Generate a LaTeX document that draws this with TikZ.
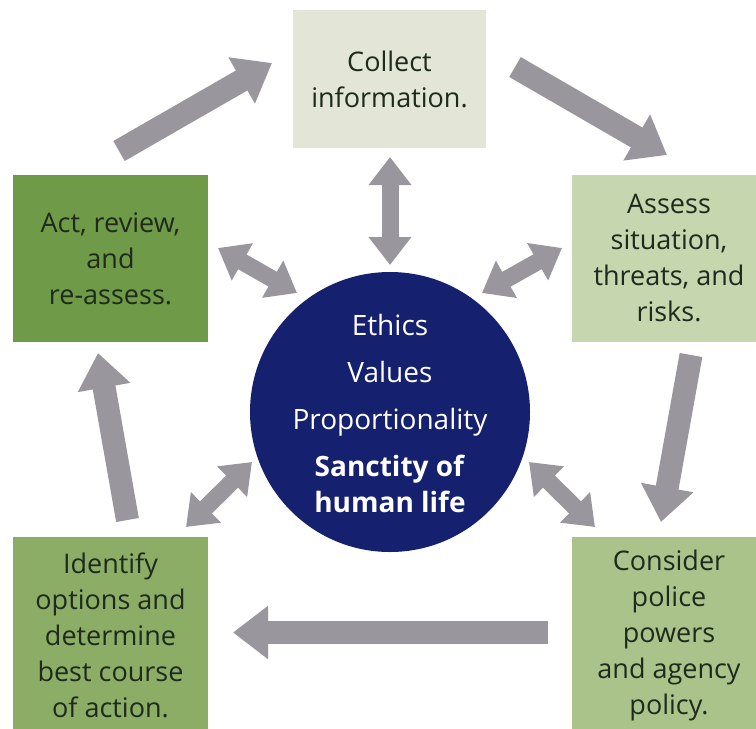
\documentclass[tikz,border=0pt]{standalone}
\usepackage{fontspec}
\setmainfont{Open Sans}
\usetikzlibrary{arrows.meta}
\definecolor{cCollect}{HTML}{E3E6D6}
\definecolor{cAct}{HTML}{6F9A48}
\definecolor{cAssess}{HTML}{C6D6AF}
\definecolor{cIdentify}{HTML}{8CAD66}
\definecolor{cConsider}{HTML}{AAC38B}
\definecolor{navy}{HTML}{15206E}
\definecolor{arr}{HTML}{99979D}
\definecolor{txt}{HTML}{1E2A1C}
\tikzset{
  box/.style={rectangle, inner sep=0pt, align=center, text=txt, font=\fontsize{27}{36}\selectfont},
  flow/.style={draw=arr, line width=23pt, -{Triangle[width=51pt,length=35pt]}},
  link/.style={draw=arr, line width=17pt, {Triangle[width=41pt,length=28pt]}-{Triangle[width=41pt,length=28pt]}}
}
\begin{document}
\begin{tikzpicture}[x=1pt,y=-1pt]
\useasboundingbox (0,0) rectangle (756,729);
\clip (0,0) rectangle (756,729);
\fill[white] (0,0) rectangle (756,729);

\node[box, fill=cCollect, minimum width=193pt, minimum height=138pt] (collect) at (389.5,79) {Collect\\information.};
\node[box, fill=cAct, minimum width=195pt, minimum height=167pt] (act) at (110.5,258.5) {Act, review,\\and\\re-assess.};
\node[box, fill=cAssess, minimum width=194pt, minimum height=167pt] (assess) at (669,258.5) {Assess\\situation,\\threats, and\\risks.};
\node[box, fill=cIdentify, minimum width=195pt, minimum height=196pt] (identify) at (110.5,635) {Identify\\options and\\determine\\best course\\of action.};
\node[box, fill=cConsider, minimum width=194pt, minimum height=196pt] (consider) at (669,635) {Consider\\police\\powers\\and agency\\policy.};

\node[circle, fill=navy, minimum size=280pt, inner sep=0pt] (core) at (390,412) {};
\node[text=white, align=center, inner sep=0pt, font=\fontsize{28}{36}\selectfont] (coretext) at (390,413) {Ethics\\[11pt]Values\\[11pt]Proportionality\\[11pt]\textbf{Sanctity of}\\\textbf{human life}};

% cycle arrows
\coordinate (f1s) at (119,151); \coordinate (f1e) at (272,63);
\coordinate (f2s) at (515,67);  \coordinate (f2e) at (667,155);
\coordinate (f3s) at (691,355); \coordinate (f3e) at (661,522);
\coordinate (f4s) at (548,632.5); \coordinate (f4e) at (233,632.5);
\coordinate (f5s) at (127.5,520); \coordinate (f5e) at (98,353);
\draw[flow] (f1s) -- (f1e);
\draw[flow] (f2s) -- (f2e);
\draw[flow] (f3s) -- (f3e);
\draw[flow] (f4s) -- (f4e);
\draw[flow] (f5s) -- (f5e);

% links to the core
\coordinate (l1a) at (390,157); \coordinate (l1b) at (390,265);
\coordinate (l2a) at (218,248); \coordinate (l2b) at (297,293);
\coordinate (l3a) at (562,248); \coordinate (l3b) at (482,293);
\coordinate (l4a) at (186,527); \coordinate (l4b) at (252,462);
\coordinate (l5a) at (595,527); \coordinate (l5b) at (529,462);
\draw[link] (l1a) -- (l1b);
\draw[link] (l2a) -- (l2b);
\draw[link] (l3a) -- (l3b);
\draw[link] (l4a) -- (l4b);
\draw[link] (l5a) -- (l5b);
\end{tikzpicture}
\end{document}
